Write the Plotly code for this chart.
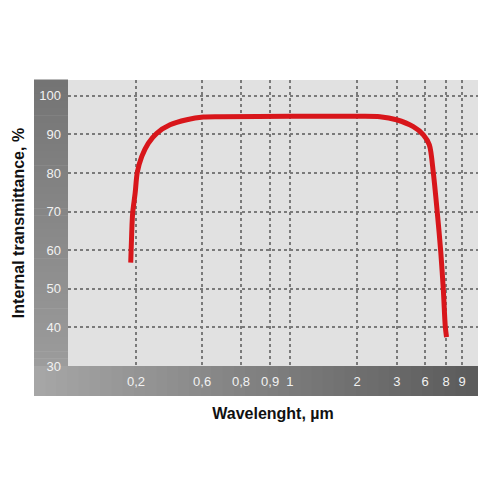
import numpy as np
import plotly.graph_objects as go

# axis: uneven wavelength scale, tick labels as printed on the original chart
TICK_WL = [0.2, 0.6, 0.8, 0.9, 1, 2, 3, 6, 8, 9]
TICK_TEXT = ["0,2", "0,6", "0,8", "0,9", "1", "2", "3", "6", "8", "9"]
TICK_POS = [1.66, 3.27, 4.22, 4.93, 5.41, 7.05, 8.02, 8.71, 9.22, 9.61]

Y_TICKS = [30, 40, 50, 60, 70, 80, 90, 100]

# transmittance curve
wavelength = [0.183, 0.186, 0.189, 0.197, 0.204, 0.220, 0.245, 0.282, 0.352,
              0.465, 0.606, 0.685, 1.0, 2.0, 2.525, 2.99, 4.49, 5.75, 6.36,
              6.72, 7.10, 7.44, 7.71, 7.92, 8.03]
transmittance = [56.8, 64.4, 69.6, 74.8, 80.1, 84.3, 87.7, 90.3, 92.5,
                 93.8, 94.5, 94.6, 94.7, 94.7, 94.6, 93.8, 92.0, 89.9, 87.3,
                 80.0, 69.6, 59.6, 49.7, 40.2, 37.5]


def to_axis(wl):
    lw = np.log(np.asarray(wl, dtype=float))
    lt = np.log(TICK_WL)
    pos = np.interp(lw, lt, TICK_POS)
    # extend the first segment below 0,2
    slope = (TICK_POS[1] - TICK_POS[0]) / (lt[1] - lt[0])
    low = lw < lt[0]
    pos[low] = TICK_POS[0] + (lw[low] - lt[0]) * slope
    return pos


fig = go.Figure()
fig.add_trace(go.Scatter(
    x=to_axis(wavelength), y=transmittance,
    mode="lines",
    line=dict(color="#d8161b", width=5, shape="spline", smoothing=0.8),
    hoverinfo="skip",
))

# grey bands behind the tick labels (stepped to fake the gradient)
shapes = []
n = 40
left_x0 = -34 / 410
bottom_y0 = -30 / 286
for i in range(n):
    t = i / (n - 1)
    c = int(0x74 + (0x9c - 0x74) * t)
    shapes.append(dict(
        type="rect", xref="paper", yref="paper", layer="below",
        x0=left_x0, x1=0, y0=1 - (i + 1) / n, y1=1 - i / n + 0.002,
        fillcolor=f"rgb({c},{c},{c})", line_width=0,
    ))
for i in range(n):
    t = i / (n - 1)
    c = int(0xa6 + (0x5c - 0xa6) * t)
    x0 = left_x0 + (1 - left_x0) * i / n
    x1 = left_x0 + (1 - left_x0) * (i + 1) / n + 0.002
    shapes.append(dict(
        type="rect", xref="paper", yref="paper", layer="below",
        x0=x0, x1=min(x1, 1), y0=bottom_y0, y1=0,
        fillcolor=f"rgb({c},{c},{c})", line_width=0,
    ))

tick_font = dict(family="Liberation Sans", size=13, color="#f2f2f2")
title_font = dict(family="Liberation Sans", size=16, color="#111111")

# the page puts the figure 8px in from the corner, so margins are 8px smaller
fig.update_layout(
    width=492, height=492,
    margin=dict(l=60, r=22, t=72, b=134),
    paper_bgcolor="white",
    plot_bgcolor="#e1e1e1",
    showlegend=False,
    shapes=shapes,
    xaxis=dict(
        range=[0, 10], automargin=False,
        tickmode="array", tickvals=TICK_POS, ticktext=TICK_TEXT,
        tickfont=tick_font, ticks="", ticklabelstandoff=6,
        showgrid=True, gridcolor="#7a7a7a", griddash="dot", gridwidth=1.5,
        zeroline=False, showline=False,
        title=dict(text="<b>Wavelenght, µm</b>", font=title_font, standoff=19),
    ),
    yaxis=dict(
        range=[30, 104.1], automargin=False,
        tickmode="array", tickvals=Y_TICKS,
        tickfont=tick_font, ticks="", ticklabelstandoff=6,
        showgrid=True, gridcolor="#7a7a7a", griddash="dot", gridwidth=1.5,
        zeroline=False, showline=False,
        title=dict(text="<b>Internal transmittance, %</b>", font=title_font, standoff=10),
    ),
)

fig.write_html("out.html")
